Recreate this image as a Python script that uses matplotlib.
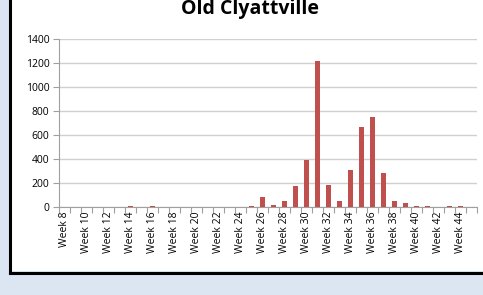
import numpy as np
import matplotlib
matplotlib.use("Agg")
import matplotlib.pyplot as plt
from matplotlib.patches import Rectangle
from matplotlib.lines import Line2D

# ==================================
# Dados
# ==================================

weeks = list(range(8, 46))
week_labels = [f"Week {w}" if w % 2 == 0 else "" for w in weeks]

counts = [
    0, 0, 0, 0, 0, 0, 5, 0, 10, 0,      # Week 8 - 17
    0, 0, 0, 0, 0, 0, 0, 8, 80, 15,     # Week 18 - 27
    52, 175, 392, 1220, 183, 52, 308, 664, 747, 286,  # Week 28 - 37
    52, 30, 12, 6, 0, 10, 5, 0,         # Week 38 - 45
]

title = "Old Clyattville"
bar_color = "#C0504D"

# ==================================
# Figura
# ==================================

plt.rcParams["font.family"] = ["Open Sans", "DejaVu Sans"]

W, H = 483, 295
fig = plt.figure(figsize=(W / 100, H / 100), dpi=100)
fig.patch.set_facecolor("#dce6f2")

# painel branco com borda preta (esquerda e baixo)
fig.patches.append(Rectangle((11 / W, 1 - 271 / H), 1, 271 / H,
                             transform=fig.transFigure, facecolor="white",
                             edgecolor="none", zorder=-5))
fig.lines.append(Line2D([9.5 / W, 9.5 / W], [1 - 272.5 / H, 1],
                        transform=fig.transFigure, color="black", lw=2.2))
fig.lines.append(Line2D([9.5 / W, 1], [1 - 272.5 / H, 1 - 272.5 / H],
                        transform=fig.transFigure, color="black", lw=2.2))

ax = fig.add_axes([59 / W, 1 - 207 / H, (477 - 59) / W, (207 - 39) / H])
ax.set_facecolor("white")

x = np.arange(len(weeks))
ax.bar(x, counts, width=0.38, color=bar_color, zorder=3)

ax.set_xlim(-0.5, len(weeks) - 0.5)
ax.set_ylim(0, 1400)
ax.set_yticks(np.arange(0, 1401, 200))
ax.yaxis.grid(True, color="#d0d0d0", lw=1)
ax.set_axisbelow(True)

# marcas entre categorias, rótulos no centro
ax.set_xticks(np.arange(-0.5, len(weeks), 1))
ax.set_xticklabels([])
ax.set_xticks(x, minor=True)
ax.set_xticklabels(week_labels, minor=True, rotation=90, fontsize=7.5)
ax.tick_params(axis="x", which="major", length=4, color="#a0a0a0", direction="out")
ax.tick_params(axis="x", which="minor", length=0, pad=3)
ax.tick_params(axis="y", length=4, color="#a0a0a0", labelsize=7.5, pad=3)

for s in ["top", "right"]:
    ax.spines[s].set_visible(False)
ax.spines["left"].set_color("#a0a0a0")
ax.spines["bottom"].set_color("#a0a0a0")

fig.text(250 / W, 1 - 9 / H, title, ha="center", va="center",
         fontsize=14, fontweight="bold")

fig.savefig("out.png", dpi=100, facecolor=fig.get_facecolor())
